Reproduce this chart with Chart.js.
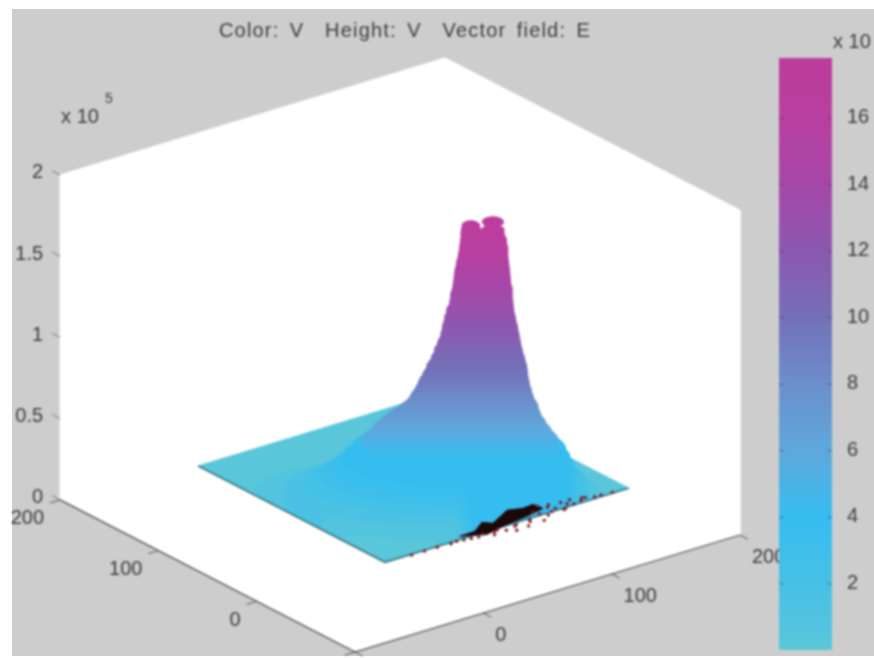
<!DOCTYPE html>
<html>
<head>
<meta charset="utf-8">
<style>
  html, body { margin: 0; background: #fff; overflow: hidden; }
  #bg { position: absolute; left: 12px; top: 9px; width: 862px; height: 647px; background: #cdcdcd; }
  #main { position: absolute; left: 12px; top: 0; width: 786px; height: 658px; filter: blur(0.8px); }
  #bar { position: absolute; left: 760px; top: 0; width: 114px; height: 658px; filter: blur(0.8px); }
</style>
<script src="https://cdn.jsdelivr.net/npm/chart.js@4"></script>
</head>
<body>
<div id="bg"></div>
<div id="main"><canvas id="surfaceChart"></canvas></div>
<div id="bar"><canvas id="colorbarChart"></canvas></div>
<script>
// axis ticks
const xTicks = [0, 100, 200];
const xTickLabels = ["0", "100", "200"];
const yTicks = [0, 100, 200];
const yTickLabels = ["0", "100", "200"];
const zTicks = [0, 500000, 1000000, 1500000, 2000000];
const zTickLabels = ["0", "0.5", "1", "1.5", "2"];
const colorbarTicks = [2, 4, 6, 8, 10, 12, 14, 16];
const colorbarRange = [0, 17.8];

// surface read as contours of V (x 10^5), outer to inner
const ringLevels = [0.5, 1, 1.5, 2, 2.5, 3, 3.5, 4, 4.5, 5, 5.5, 6, 6.5, 7, 7.5, 8, 8.5, 9, 9.5, 10, 10.5, 11, 11.5, 12, 12.5, 13, 13.5, 14, 14.5, 15, 15.5, 16, 16.5];
const ringCx = [75, 80, 83, 85, 87, 88, 89, 90, 90.5, 91.5, 93.5, 95.4, 95.8, 96.4, 96.8, 97.6, 98.4, 98.9, 99, 99.4, 99.9, 99.9, 99.9, 100, 100.6, 100.6, 101, 101, 101, 101.2, 101.4, 101.6, 101.6];
const ringCy = [55, 50, 47, 46, 44, 43, 42, 41.2, 40.9, 40.1, 38.6, 37.1, 36.8, 36.3, 36, 35.4, 35, 34.4, 34.2, 34, 33.7, 33.7, 33.7, 33.6, 33.2, 33.2, 33, 33, 32.8, 32.7, 32.5, 32.4, 32.4];
const ringA = [110, 96, 88, 80, 75, 71, 67, 61, 56.4, 51.5, 45.9, 41.8, 38.7, 36.3, 34.4, 32.5, 31, 29, 27.3, 25.7, 24.2, 23.2, 22, 20.8, 19.5, 18.9, 18, 17.4, 16.9, 16, 15.2, 14.6, 14];
const ringB = [64, 56, 52, 50, 48, 46, 46, 46, 45, 44, 44, 44, 44, 42, 40, 38, 36, 34, 32, 30, 29, 28, 27, 26, 25, 24, 23, 21, 19, 17, 15, 13, 11];

// the two bumps on top of the peak
const lobeLevels = [16.75, 16.75, 17, 17, 17.26, 17.5];
const lobeCx = [95.4, 106.2, 95.4, 106.2, 95.4, 106.2];
const lobeCy = [37.1, 28.8, 37.1, 28.8, 37.1, 28.8];
const lobeA = [6.2, 7.2, 6, 7, 5.5, 6.5];
const lobeB = [8, 8, 8, 8, 8, 8];

// vector field E, mostly piled up at the front edge
const blobX = [61.5, 73.6, 85.5, 90, 109.3, 119, 127.7, 128.8, 113.3, 92, 76.6];
const blobY = [4, 4.6, 13, 7.7, 18.5, 15, 16, 7.4, 3.6, 0.2, -3.8];
const speckX = [20, 30, 40, 50, 55, 60, 65, 70, 75, 80, 83, 86, 90, 95, 98, 100, 105, 110, 112, 118, 120, 122, 125, 128, 130, 132, 135, 135, 138, 140, 143, 145, 148, 150, 155, 158, 160, 165, 170, 178];
const speckY = [-1, -1, -1, -2, -1, -2, -3, -4, -2, -7, -3, -2, -6, -10, -4, -3, -9, -4, -1, -8, 6, 2, -3, 12, 0, 7, 3, 10, -2, -1, 8, 4, 1, 8, 3, 6, 5, 2, 2, 1];

const baseSize = 190;
const AXIS_MIN = -100;
// contour axes: across the view and towards the viewer
const ACROSS = [0.79, -0.61], DEPTH = [0.61, 0.79];

// fixed camera of the 3d view, output is in canvas px with y going up
function project(x, y, z) {
  return {
    x: 355 + (x - AXIS_MIN) * 1.283 - (y - AXIS_MIN) * 0.983,
    y: 6 + (x - AXIS_MIN) * 0.39 + (y - AXIS_MIN) * 0.507 + z * 325 / 2000000,
  };
}

const colorStops = [
  [0, [92, 199, 216]], [0.5, [84, 197, 222]], [2, [70, 193, 230]], [4, [54, 189, 240]], [6, [95, 168, 220]],
  [8, [108, 143, 203]], [10, [116, 112, 184]], [12, [140, 88, 176]], [14, [165, 72, 168]],
  [16, [184, 63, 160]], [17.8, [188, 60, 156]],
];
function colormap(v) {
  for (let i = 1; i < colorStops.length; i++) {
    if (v <= colorStops[i][0]) {
      const [a, ca] = colorStops[i - 1], [b, cb] = colorStops[i];
      const t = Math.max(0, (v - a) / (b - a));
      return "rgb(" + ca.map((c, k) => Math.round(c + (cb[k] - c) * t)).join(",") + ")";
    }
  }
  return "rgb(188,60,156)";
}

const surfaceCtx = document.getElementById("surfaceChart").getContext("2d");

// the steep part of the peak is shaded smoothly from its foot to its top
function peakGradient() {
  const g = surfaceCtx.createLinearGradient(0, 218, 0, 458);
  for (let y = 218; y <= 458; y += 6) {
    const v = y < 385 ? 17.8 - (y - 218) * 0.052 : 9.1 - (y - 385) * 0.07;
    g.addColorStop((y - 218) / 240, colormap(v));
  }
  return g;
}
const peakFill = peakGradient();

function polygon(points, color) {
  return { data: points.concat([points[0]]), showLine: true, fill: "shape", backgroundColor: color, borderColor: color, borderWidth: 1, pointRadius: 0 };
}
function path(points, color, width) {
  return { data: points, showLine: true, fill: false, borderColor: color, borderWidth: width, pointRadius: 0 };
}

function ring(level, cx, cy, a, b) {
  const pts = [];
  for (let i = 0; i < 72; i++) {
    const t = i / 72 * Math.PI * 2;
    const x = cx + a * Math.cos(t) * ACROSS[0] + b * Math.sin(t) * DEPTH[0];
    const y = cy + a * Math.cos(t) * ACROSS[1] + b * Math.sin(t) * DEPTH[1];
    const inside = x >= 0 && x <= baseSize && y >= 0 && y <= baseSize;
    pts.push(project(Math.min(baseSize, Math.max(0, x)), Math.min(baseSize, Math.max(0, y)), inside ? level * 100000 : 0));
  }
  // the low contours stay close to the bright cyan of the floor
  return polygon(pts, level >= 4 ? peakFill : colormap(Math.min(4, level * 1.5)));
}

// side of the peak: joins the outer tips of the contours so the outline is smooth
function flank() {
  const left = [], right = [];
  ringLevels.forEach((lv, i) => {
    if (lv < 4) return;
    const z = lv * 100000, a = ringA[i];
    left.push(project(ringCx[i] - a * ACROSS[0], ringCy[i] - a * ACROSS[1], z));
    right.push(project(ringCx[i] + a * ACROSS[0], ringCy[i] + a * ACROSS[1], z));
  });
  return polygon(left.concat(right.reverse()), peakFill);
}

const datasets = [];
// white box of the axes
datasets.push(polygon([
  project(-100, 200, 0), project(-100, 200, 2000000), project(200, 200, 2000000),
  project(200, -100, 2000000), project(200, -100, 0), project(-100, -100, 0),
], "#ffffff"));
datasets.push(path([project(-100, 200, 0), project(-100, -100, 0), project(200, -100, 0)], "#4c4c4c", 1.3));
xTicks.concat([-100]).forEach(v => datasets.push(path([project(v, -100, 0), project(v, -108, 0)], "#555555", 1)));
yTicks.concat([-100]).forEach(v => datasets.push(path([project(-100, v, 0), project(-108, v, 0)], "#555555", 1)));
zTicks.forEach(v => datasets.push(path([project(-100, 200, v), project(-100, 208, v)], "#777777", 1)));

// flat part and contours
datasets.push(polygon([project(0, 0, 0), project(baseSize, 0, 0), project(baseSize, baseSize, 0), project(0, baseSize, 0)], colormap(0.2)));
ringLevels.forEach((lv, i) => datasets.push(ring(lv, ringCx[i], ringCy[i], ringA[i], ringB[i])));
datasets.push(flank());
lobeLevels.forEach((lv, i) => datasets.push(ring(lv, lobeCx[i], lobeCy[i], lobeA[i], lobeB[i])));

datasets.push(path([project(0, baseSize, 0), project(0, 0, 0), project(baseSize, 0, 0)], "#3a7480", 1.6));
datasets.push(polygon(blobX.map((x, i) => project(x, blobY[i], 0)), "#1c0808"));
datasets.push({ data: speckX.map((x, i) => project(x, speckY[i], 0)), showLine: false, pointRadius: 1.7, pointBackgroundColor: "#7a1c22", pointBorderWidth: 0 });

// chart.js paints the first dataset last, the list above is back to front
datasets.reverse();

const titleSpacing = {
  id: "titleSpacing",
  beforeDraw(chart) {
    chart.ctx.letterSpacing = "1.2px";
    chart.ctx.wordSpacing = "3.6px";
  },
};

const axisText = {
  id: "axisText",
  afterDraw(chart) {
    const { ctx, scales } = chart;
    const put = (p, dx, dy, text, align, size) => {
      ctx.textAlign = align;
      ctx.font = (size || 20) + 'px "Liberation Sans"';
      ctx.fillText(text, scales.x.getPixelForValue(p.x) + dx, scales.y.getPixelForValue(p.y) + dy);
    };
    ctx.save();
    ctx.letterSpacing = "0px";
    ctx.wordSpacing = "0px";
    ctx.fillStyle = "#3c3c3c";
    ctx.textBaseline = "middle";
    zTicks.forEach((v, i) => put(project(-100, 200, v), -17, -2, zTickLabels[i], "right"));
    yTicks.forEach((v, i) => put(project(-100, v, 0), -16, 19, yTickLabels[i], "right"));
    xTicks.forEach((v, i) => put(project(v, -100, 0), 12, 22, xTickLabels[i], "left"));
    put(project(-100, 200, 2000000), 1, -57, "x 10", "left");
    put(project(-100, 200, 2000000), 45, -76, "5", "left", 14);
    ctx.restore();
  },
};

Chart.defaults.font.family = '"Liberation Sans"';
Chart.defaults.animation = false;

new Chart(surfaceCtx, {
  type: "scatter",
  data: { datasets: datasets },
  options: {
    responsive: true,
    maintainAspectRatio: false,
    layout: { autoPadding: false },
    plugins: {
      legend: { display: false },
      tooltip: { enabled: false },
      title: {
        display: true,
        text: "Color: V  Height: V  Vector field: E",
        color: "#3c3c3c",
        font: { size: 20, weight: "normal" },
        padding: { top: 19, bottom: 0 },
      },
    },
    scales: {
      x: { display: false, min: 12, max: 798 },
      y: { display: false, min: 0, max: 615 },
    },
  },
  plugins: [titleSpacing, axisText],
});

const barStubs = {
  id: "barStubs",
  afterDatasetsDraw(chart) {
    const { ctx, chartArea, scales } = chart;
    ctx.save();
    ctx.strokeStyle = "rgba(60,60,90,0.55)";
    colorbarTicks.forEach(v => {
      const y = Math.round(scales.y.getPixelForValue(v)) + 0.5;
      ctx.beginPath();
      ctx.moveTo(chartArea.left, y);
      ctx.lineTo(chartArea.left + 5, y);
      ctx.moveTo(chartArea.right - 5, y);
      ctx.lineTo(chartArea.right, y);
      ctx.stroke();
    });
    ctx.fillStyle = "#3c3c3c";
    ctx.font = '20px "Liberation Sans"';
    ctx.textBaseline = "middle";
    ctx.fillText("x 10", chartArea.right + 1, 42);
    ctx.restore();
  },
};

new Chart(document.getElementById("colorbarChart").getContext("2d"), {
  type: "bar",
  data: {
    labels: ["V"],
    datasets: [{
      data: [colorbarRange],
      barPercentage: 1,
      categoryPercentage: 1,
      backgroundColor(c) {
        const area = c.chart.chartArea;
        if (!area) return "#6f8fcf";
        const g = c.chart.ctx.createLinearGradient(0, area.bottom, 0, area.top);
        colorStops.forEach(s => g.addColorStop(s[0] / colorbarRange[1], colormap(s[0])));
        return g;
      },
    }],
  },
  options: {
    responsive: true,
    maintainAspectRatio: false,
    layout: { autoPadding: false, padding: { left: 19, top: 58, bottom: 8 } },
    plugins: { legend: { display: false }, tooltip: { enabled: false } },
    scales: {
      x: { display: false },
      y: {
        position: "right",
        min: colorbarRange[0],
        max: colorbarRange[1],
        afterBuildTicks(scale) { scale.ticks = colorbarTicks.map(v => ({ value: v })); },
        afterFit(scale) {
          scale.width = 42;
          // no room kept for half a tick label, the bar runs to the bottom padding
          scale.paddingTop = 0;
          scale.paddingBottom = 0;
        },
        grid: { display: false },
        border: { display: false },
        ticks: { color: "#3c3c3c", padding: 7, font: { size: 20 } },
      },
    },
  },
  plugins: [barStubs],
});
</script>
</body>
</html>
